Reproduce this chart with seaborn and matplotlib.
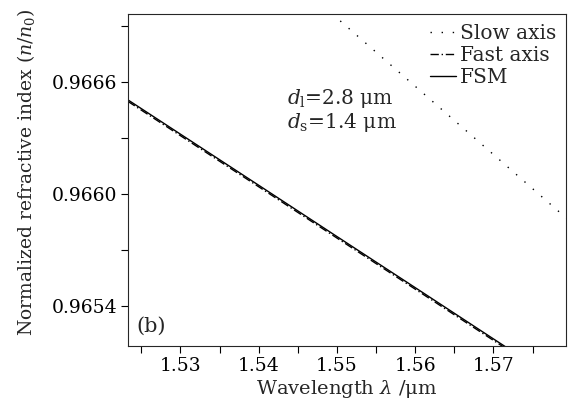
import numpy as np
import pandas as pd
import matplotlib
matplotlib.use("Agg")
import matplotlib.pyplot as plt
from matplotlib.ticker import MultipleLocator, FormatStrFormatter
import seaborn as sns

# Wavelength samples (µm) and normalized effective indices for each mode
wavelength = [1.52, 1.53, 1.54, 1.55, 1.56, 1.57, 1.58]
slow_axis = [0.968040, 0.967674, 0.967308, 0.966942, 0.966576, 0.966210, 0.965844]
fast_axis = [0.966585, 0.966311, 0.966037, 0.965762, 0.965488, 0.965213, 0.964939]
fsm = [0.966593, 0.966319, 0.966045, 0.965770, 0.965496, 0.965221, 0.964947]

series_names = ["Slow axis", "Fast axis", "FSM"]

df = pd.DataFrame({
    "wl": wavelength * 3,
    "n": slow_axis + fast_axis + fsm,
    "mode": [series_names[0]] * 7 + [series_names[1]] * 7 + [series_names[2]] * 7,
})

sns.set_style("ticks")
plt.rcParams["font.family"] = ["DejaVu Serif"]
plt.rcParams["mathtext.fontset"] = "dejavuserif"
plt.rcParams["axes.linewidth"] = 0.8

fig = plt.figure(figsize=(5.69, 4.03), dpi=100)
ax = fig.add_axes([0.225, 0.142, 0.770, 0.823])

sns.lineplot(data=df, x="wl", y="n", hue="mode", style="mode",
             palette=["black"] * 3,
             dashes={"Slow axis": (1, 7), "Fast axis": (6, 2, 1, 2), "FSM": ""},
             linewidth=1.0, ax=ax, legend=True)

ax.set_xlim(1.5233, 1.5793)
ax.set_ylim(0.965184, 0.966963)
ax.xaxis.set_major_locator(MultipleLocator(0.01))
ax.xaxis.set_minor_locator(MultipleLocator(0.005))
ax.yaxis.set_major_locator(MultipleLocator(0.0006))
ax.yaxis.set_minor_locator(MultipleLocator(0.0003))
ax.xaxis.set_major_formatter(FormatStrFormatter("%.2f"))
ax.yaxis.set_major_formatter(FormatStrFormatter("%.4f"))
ax.tick_params(axis="both", which="both", direction="out", length=5,
               width=0.8, labelsize=13.5, colors="black", pad=3)

ax.set_xlabel(r"Wavelength $\lambda$ /μm", fontsize=14, labelpad=2)
ax.set_ylabel(r"Normalized refractive index ($n$/$n_0$)", fontsize=13.5)
ax.yaxis.set_label_coords(-0.208, 0.524)

ax.text(0.363, 0.71, r"$d_\mathrm{l}$=2.8 μm" + "\n" + r"$d_\mathrm{s}$=1.4 μm",
        transform=ax.transAxes, fontsize=14.5, va="center", ha="left",
        linespacing=1.05)
ax.text(0.018, 0.06, "(b)", transform=ax.transAxes, fontsize=15,
        va="center", ha="left")

leg = ax.legend(loc="upper right", frameon=False, fontsize=14.5,
                handlelength=1.3, handletextpad=0.2, labelspacing=0.15,
                borderaxespad=0.35, borderpad=0.15)
for line in leg.get_lines():
    line.set_linewidth(1.0)

fig.savefig("out.png", dpi=100)
